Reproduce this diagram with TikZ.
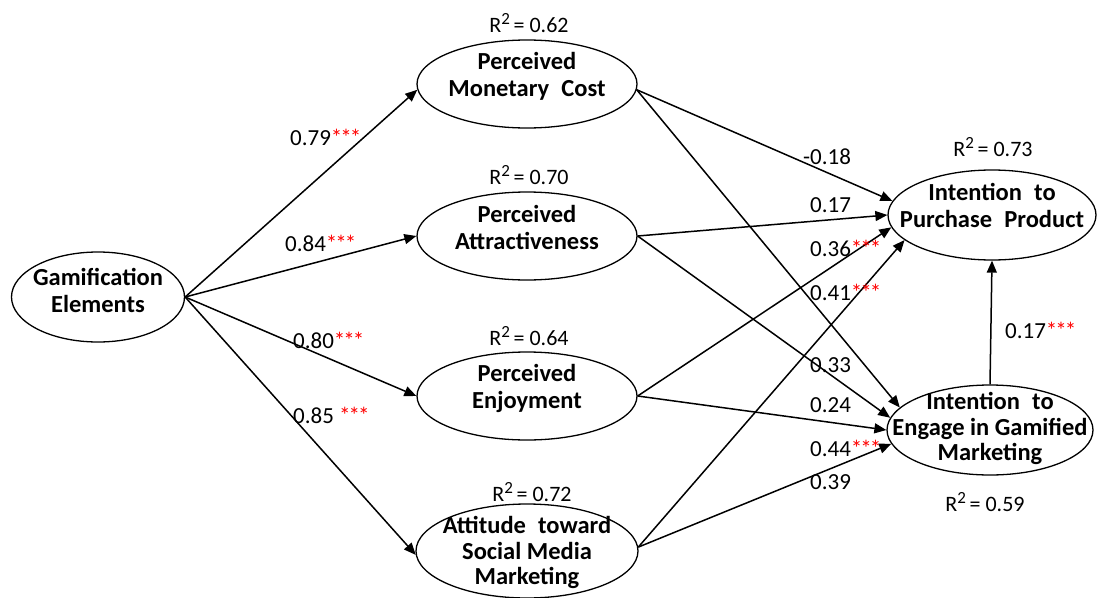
\documentclass[tikz,border=0pt]{standalone}
\usepackage{fontspec}
\setmainfont{Carlito}
\usetikzlibrary{shapes.geometric,arrows.meta}
\newcommand\stars{\textcolor{red}{*\kern-2pt*\kern-2pt*}}
\newcommand\rsqd{R\raisebox{0.33em}{\fontsize{17}{17}\selectfont 2}}
\newcommand\wsp{\hspace{0.5em}}
% centred block of lines, optionally lifted without changing the box size
\newcommand\ctext[2][0pt]{\raisebox{#1}[\height][\depth]{\begin{tabular}{@{}c@{}}#2\end{tabular}}}
\begin{document}
\begin{tikzpicture}[x=1pt,y=-1pt,
  construct/.style={ellipse,draw,line width=1.3pt,inner xsep=-80pt,inner ysep=-40pt,
    font=\fontsize{24.5}{27}\selectfont\bfseries},
  threeline/.style={font=\fontsize{24.5}{25.5}\selectfont\bfseries},
  effect/.style={line width=1.5pt,-{Triangle[length=12pt,width=10pt]}},
  coef/.style={anchor=west,inner sep=0pt,font=\fontsize{23}{25}\selectfont},
  rsq/.style={inner sep=0pt,font=\fontsize{22}{24}\selectfont}]
\useasboundingbox (0,0) rectangle (1100,597);

% constructs
\node[construct,minimum width=173pt,minimum height=90pt] (GE) at (98,297) {\ctext[3pt]{Gamification\\Elements}};
\node[construct,minimum width=220pt,minimum height=88pt] (PMC) at (527,84) {\ctext[6pt]{Perceived\\Monetary\wsp Cost}};
\node[construct,minimum width=220pt,minimum height=88pt] (PA) at (527,236) {\ctext[5pt]{Perceived\\Attractiveness}};
\node[construct,minimum width=220pt,minimum height=88pt] (PE) at (527,396) {\ctext[6pt]{Perceived\\Enjoyment}};
\node[construct,threeline,minimum width=222pt,minimum height=94pt] (ATSM) at (527,551) {\ctext[-3pt]{Attitude\wsp toward\\Social Media\\Marketing}};
\node[construct,minimum width=208pt,minimum height=90pt] (IPP) at (992,215) {\ctext[6pt]{Intention\wsp to\\Purchase\wsp Product}};
\node[construct,threeline,minimum width=206pt,minimum height=90pt] (IEGM) at (990,430) {\ctext{Intention\wsp to\\Engage in Gamified\\Marketing}};

% explained variance
\node[rsq] (r1) at (529,23) {\rsqd\,= 0.62};
\node[rsq] (r2) at (529,175) {\rsqd\,= 0.70};
\node[rsq] (r3) at (529,336) {\rsqd\,= 0.64};
\node[rsq] (r4) at (532,492) {\rsqd\,= 0.72};
\node[rsq] (r5) at (993,147) {\rsqd\,= 0.73};
\node[rsq] (r6) at (985,502) {\rsqd\,= 0.59};

% structural paths
\draw[effect] (GE.east) -- (PMC.183);
\draw[effect] (GE.east) -- (PA.180);
\draw[effect] (GE.east) -- (PE.180);
\draw[effect] (GE.east) -- (ATSM.182);

\draw[effect] (PMC.-3) -- (IPP.172);
\draw[effect] (PMC.-3) -- (IEGM.166);
\draw[effect] (PA.east) -- (IPP.180);
\draw[effect] (PA.east) -- (IEGM.173);
\draw[effect] (PE.east) -- (IPP.187);
\draw[effect] (PE.east) -- (IEGM.180);
\draw[effect] (ATSM.2) -- (IPP.196);
\draw[effect] (ATSM.2) -- (IEGM.188);
\draw[effect] (IEGM.north) -- (IPP.south);

% path coefficients
\node[coef] (c1) at (290,137) {0.79\stars};
\node[coef] (c2) at (285,243) {0.84\stars};
\node[coef] (c3) at (293,340) {0.80\stars};
\node[coef] (c4) at (293,415) {0.85 \stars};
\node[coef] (c5) at (803,157) {-0.18};
\node[coef] (c6) at (810,205) {0.17};
\node[coef] (c7) at (810,248) {0.36\stars};
\node[coef] (c8) at (810,292) {0.41\stars};
\node[coef] (c9) at (810,365) {0.33};
\node[coef] (c10) at (810,405) {0.24};
\node[coef] (c11) at (810,448) {0.44\stars};
\node[coef] (c12) at (810,482) {0.39};
\node[coef] (c13) at (1005,330) {0.17\stars};
\end{tikzpicture}
\end{document}
